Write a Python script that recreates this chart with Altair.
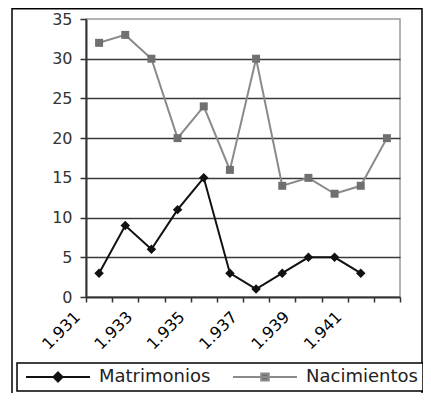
import altair as alt
import pandas as pd

years = ["1.931", "1.932", "1.933", "1.934", "1.935", "1.936",
         "1.937", "1.938", "1.939", "1.940", "1.941", "1.942"]
matrimonios = [3, 9, 6, 11, 15, 3, 1, 3, 5, 5, 3, None]
nacimientos = [32, 33, 30, 20, 24, 16, 30, 14, 15, 13, 14, 20]
label_years = ["1.931", "1.933", "1.935", "1.937", "1.939", "1.941"]
series = ["Matrimonios", "Nacimientos"]
line_colors = ["#111111", "#8a8a8a"]
marker_colors = ["#111111", "#707070"]
y_ticks = [0, 5, 10, 15, 20, 25, 30, 35]

rows = []
for s, vals in zip(series, [matrimonios, nacimientos]):
    for yr, v in zip(years, vals):
        if v is not None:
            rows.append({"year": yr, "value": v, "serie": s})
df = pd.DataFrame(rows)

FONT = "DejaVu Sans"
lab_list = ",".join("'" + l + "'" for l in label_years)

x_enc = alt.X(
    "year:O",
    sort=years,
    bandPosition=0.5,
    scale=alt.Scale(type="band", domain=years, paddingInner=0, paddingOuter=0),
    axis=alt.Axis(
        title=None,
        labelAngle=-45,
        labelAlign="right",
        labelBaseline="middle",
        labelOffset=-22,
        labelPadding=12,
        labelExpr=f"indexof([{lab_list}], datum.value) >= 0 ? datum.label : ''",
        labelFont=FONT,
        labelFontSize=16,
        labelColor="#000000",
        tickBand="extent",
        tickSize=5,
        tickColor="#333333",
        tickWidth=1.5,
        domainColor="#333333",
        domainWidth=2,
        grid=False,
        labelOverlap=False,
    ),
)
y_enc = alt.Y(
    "value:Q",
    scale=alt.Scale(domain=[0, 35], nice=False),
    axis=alt.Axis(
        title=None,
        values=y_ticks,
        tickSize=6,
        tickColor="#333333",
        tickWidth=1.5,
        labelPadding=8,
        labelFont=FONT,
        labelFontSize=16,
        labelColor="#333333",
        domainColor="#333333",
        domainWidth=2,
        grid=True,
        gridColor="#3a3a3a",
        gridWidth=1.5,
        gridOpacity={"condition": {"test": "datum.value === 35 || datum.value === 0", "value": 0}, "value": 1},
    ),
)

base = alt.Chart(df)

nac_line = base.transform_filter(alt.datum.serie == "Nacimientos").mark_line(
    color=line_colors[1], strokeWidth=2).encode(x=x_enc, y=y_enc)
nac_pts = base.transform_filter(alt.datum.serie == "Nacimientos").mark_point(
    shape="square", filled=True, color=marker_colors[1], size=64, opacity=1).encode(x=x_enc, y=y_enc)
mat_line = base.transform_filter(alt.datum.serie == "Matrimonios").mark_line(
    color=line_colors[0], strokeWidth=2).encode(x=x_enc, y=y_enc)
mat_pts = base.transform_filter(alt.datum.serie == "Matrimonios").mark_point(
    shape="diamond", filled=True, color=marker_colors[0], size=90, opacity=1).encode(x=x_enc, y=y_enc)

path_diamond = "M-1,0H11.8M5.4,-0.9L6.3,0L5.4,0.9L4.5,0Z"
path_square = "M-1,0H11.8M4.65,-0.7H6.15V0.7H4.65Z"

leg = alt.Legend(title=None, orient="none", legendX=-69, legendY=344,
                 direction="horizontal")
legend_layer = base.transform_filter("false").mark_point(filled=True, opacity=1).encode(
    shape=alt.Shape("serie:N", scale=alt.Scale(domain=series, range=[path_diamond, path_square]), legend=leg),
    fill=alt.Fill("serie:N", scale=alt.Scale(domain=series, range=marker_colors), legend=leg),
    stroke=alt.Stroke("serie:N", scale=alt.Scale(domain=series, range=line_colors), legend=leg),
)

border = alt.Chart(alt.Data(values=[{"k": 1}])).mark_rect(
    fill="white", fillOpacity=0, stroke="#000000", strokeWidth=1.5, clip=False
).encode(x=alt.value(-74), x2=alt.value(336), y=alt.value(-10.2), y2=alt.value(400))

chart = alt.layer(nac_line, nac_pts, mat_line, mat_pts, legend_layer, border).properties(
    width=314, height=278,
    autosize=alt.AutoSizeParams(type="none"),
    padding={"left": 78, "top": 11, "right": 23, "bottom": 96},
    background="white",
).configure_view(
    fill="#d9d9d9", stroke="#9a9a9a", strokeWidth=1.5
).configure_legend(
    strokeColor="#000000",
    strokeWidth=1.5,
    fillColor="white",
    padding=5,
    symbolSize=100,
    symbolStrokeWidth=2,
    symbolOpacity=1,
    labelOffset=59,
    labelFont=FONT,
    labelFontSize=18,
    labelColor="#222222",
    columnPadding=18,
)

chart.save("out.html", embed_options={"renderer": "svg", "actions": False})
